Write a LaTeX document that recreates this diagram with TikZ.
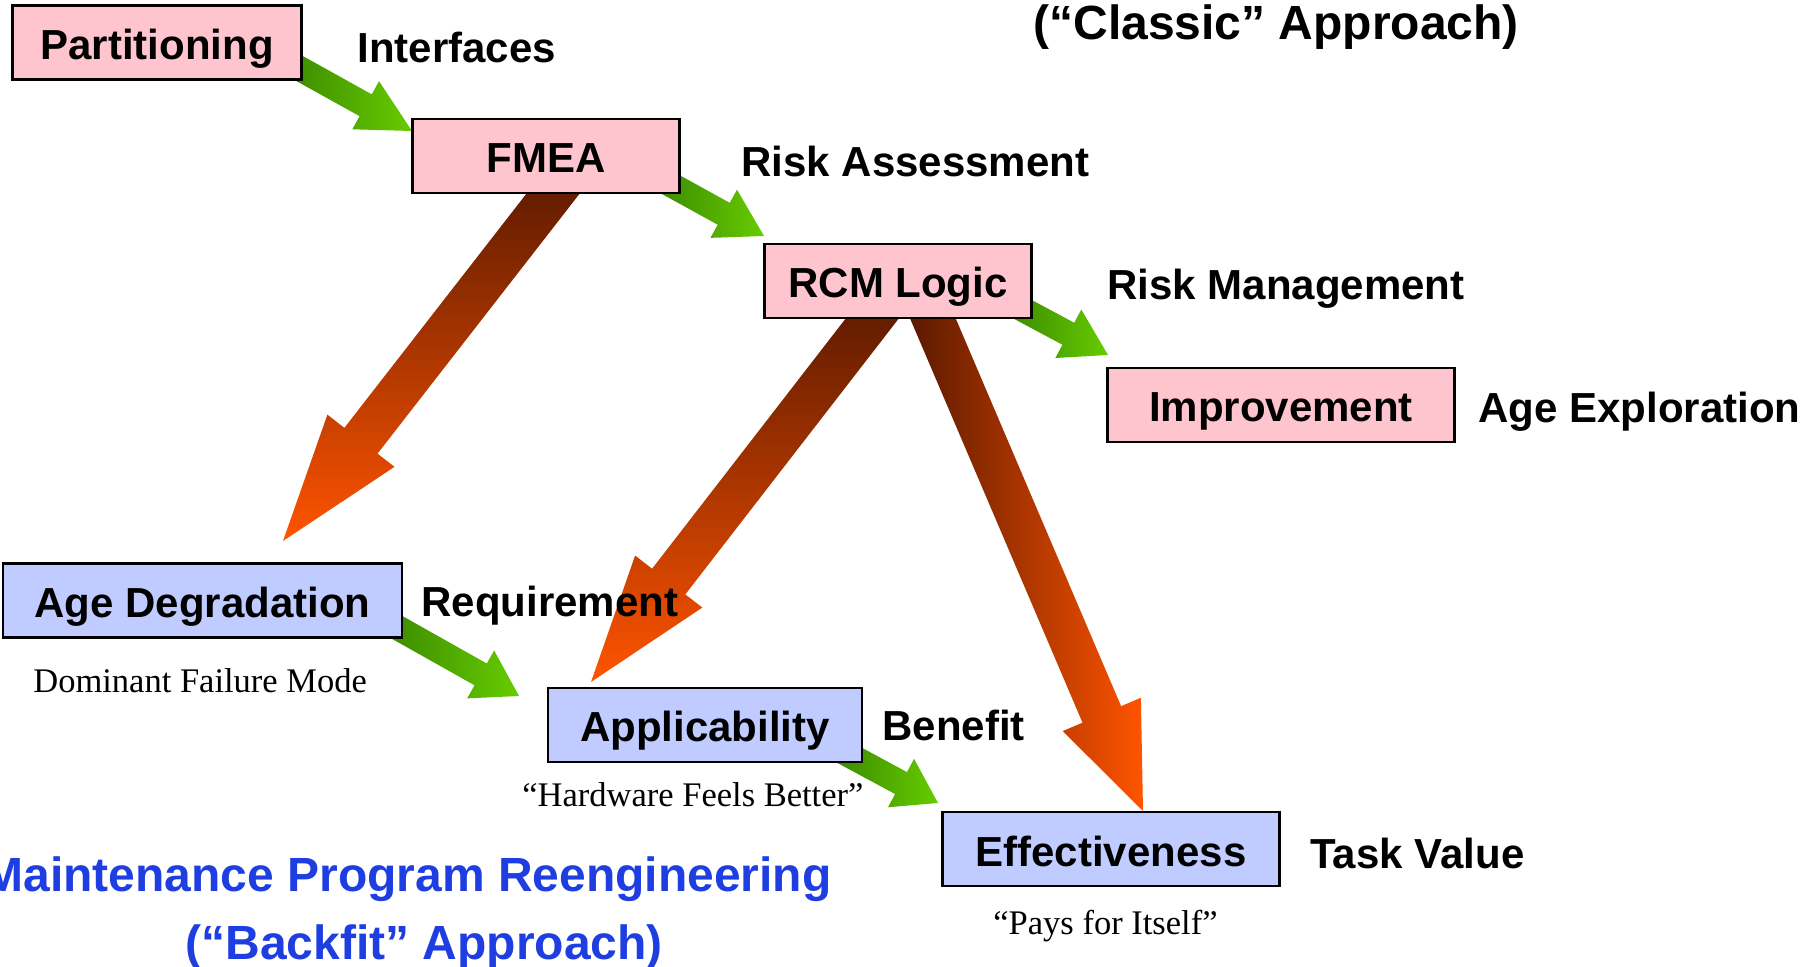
\documentclass[tikz,border=0pt]{standalone}
\usepackage{fontspec}
\setmainfont{Liberation Serif}
\newfontfamily\arialfont{Liberation Sans}
\usetikzlibrary{calc}
\definecolor{pinkfill}{RGB}{255,197,206}
\definecolor{bluefill}{RGB}{192,204,255}
\definecolor{titleblue}{RGB}{30,62,226}
\definecolor{gdark}{RGB}{58,134,0}
\definecolor{glight}{RGB}{102,204,0}
\definecolor{bdark}{RGB}{88,24,0}
\definecolor{borange}{RGB}{255,84,0}
% #1 style, #2 start coordinate, #3 tip coordinate, #4 half shaft, #5 half head, #6 head length
\newcommand\blockarrow[6]{%
  \coordinate (neck) at ($(#3)!#6!(#2)$);
  \shade[#1] ($(#2)!#4!90:(#3)$) -- ($(neck)!#4!90:(#3)$) -- ($(neck)!#5!90:(#3)$) -- (#3)
    -- ($(neck)!#5!-90:(#3)$) -- ($(neck)!#4!-90:(#3)$) -- ($(#2)!#4!-90:(#3)$) -- cycle;
}
\begin{document}
\begin{tikzpicture}[x=0.5pt,y=-0.5pt,
  box/.style={draw=black,line width=1.4pt,rectangle,inner sep=0pt,minimum height=37pt,
    text height=18pt,text depth=1pt,font=\arialfont\bfseries\fontsize{21}{25}\selectfont},
  pinkbox/.style={box,fill=pinkfill},
  bluebox/.style={box,fill=bluefill},
  lbl/.style={anchor=base west,inner sep=0pt,font=\arialfont\bfseries\fontsize{21}{25}\selectfont},
  note/.style={anchor=base west,inner sep=0pt,font=\fontsize{17.25}{20}\selectfont},
  title/.style={inner sep=0pt,font=\arialfont\bfseries\fontsize{24}{29}\selectfont},
  greenarrow/.style={left color=gdark,right color=glight},
  brownv/.style={top color=bdark,bottom color=borange},
  brownh/.style={left color=bdark,right color=borange}]
\useasboundingbox (0,0) rectangle (1811,967);

% arrow end points
\coordinate (g1s) at (286,61);   \coordinate (g1t) at (412,131);
\coordinate (g2s) at (657,177);  \coordinate (g2t) at (764,236);
\coordinate (g3s) at (1009,302); \coordinate (g3t) at (1108,355);
\coordinate (g4s) at (384,620);  \coordinate (g4t) at (519,696);
\coordinate (g5s) at (836,748);  \coordinate (g5t) at (938,803);
\coordinate (b1s) at (566,177);  \coordinate (b1t) at (283,541);
\coordinate (b2s) at (885,302);  \coordinate (b2t) at (591,682);
\coordinate (b3s) at (925,300);  \coordinate (b3t) at (1143,811);

% arrows
\blockarrow{brownv}{b1s}{b1t}{10.5pt}{21.25pt}{63.5pt}
\blockarrow{brownv}{b2s}{b2t}{10.5pt}{21.25pt}{63.5pt}
\blockarrow{brownh}{b3s}{b3t}{10.5pt}{21.25pt}{52.5pt}
\blockarrow{greenarrow}{g1s}{g1t}{6.25pt}{13.75pt}{26.5pt}
\blockarrow{greenarrow}{g2s}{g2t}{6.25pt}{13.75pt}{23pt}
\blockarrow{greenarrow}{g3s}{g3t}{6.25pt}{13.75pt}{22.5pt}
\blockarrow{greenarrow}{g4s}{g4t}{6.25pt}{13.75pt}{22pt}
\blockarrow{greenarrow}{g5s}{g5t}{6.25pt}{13.75pt}{21pt}

% boxes
\node[pinkbox,minimum width=144.5pt] (part) at (157,42.7) {Partitioning};
\node[pinkbox,minimum width=133.5pt] (fmea) at (546,156) {FMEA};
\node[pinkbox,minimum width=133.5pt] (rcm) at (898,281) {RCM Logic};
\node[pinkbox,minimum width=173.5pt] (impr) at (1281,405) {Improvement};
\node[bluebox,minimum width=199.5pt] (agedeg) at (202.5,600.5) {Age Degradation};
\node[bluebox,minimum width=157pt] (appl) at (705,725) {Applicability};
\node[bluebox,minimum width=168.5pt] (eff) at (1111,849) {Effectiveness};

% labels
\node[lbl] (interfaces) at (357,63) {Interfaces};
\node[lbl] (riskA) at (741,177) {Risk Assessment};
\node[lbl] (riskM) at (1107,300) {Risk Management};
\node[lbl] (ageexp) at (1478,423) {Age Exploration};
\node[lbl] (req) at (421,617) {Requirement};
\node[lbl] (benefit) at (882,741) {Benefit};
\node[lbl] (taskv) at (1310,869) {Task Value};

\node[note] (dfm) at (33,693) {Dominant Failure Mode};
\node[note] (hfb) at (522,806) {“Hardware Feels Better”};
\node[note] (pfi) at (993,934) {“Pays for Itself”};

\node[title,anchor=base west] (classic) at (1033,40) {(“Classic” Approach)};
\node[title,text=titleblue,anchor=base east] (mpr) at (832,892) {Maintenance Program Reengineering};
\node[title,text=titleblue,anchor=base west] (backfit) at (185,959) {(“Backfit” Approach)};
\end{tikzpicture}
\end{document}
